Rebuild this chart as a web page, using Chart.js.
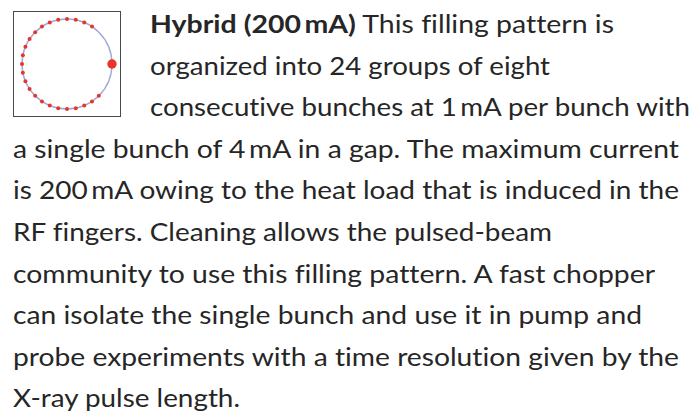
<!DOCTYPE html>
<html>
<head>
<meta charset="utf-8">
<script src="https://cdn.jsdelivr.net/npm/chart.js@4"></script>
<style>
    html, body {
        margin: 0;
        padding: 0;
        background: #ffffff;
    }
    body {
        width: 693px;
        height: 419px;
        position: relative;
        overflow: hidden;
        font-family: Lato, "DejaVu Sans Condensed", sans-serif;
        color: #262626;
    }
    #ring-box {
        position: absolute;
        left: 13px;
        top: 11px;
        width: 106px;
        height: 104px;
        border: 1px solid #4a4a4a;
    }
    #ring-box canvas {
        display: block;
    }
    .line {
        position: absolute;
        white-space: nowrap;
        font-size: 25px;
        line-height: 30px;
        font-variant-ligatures: none;
        transform-origin: 0 0;
    }
    .line b {
        font-weight: bold;
    }
</style>
</head>
<body>
<div id="ring-box"><canvas id="ring-chart" width="106" height="104"></canvas></div>
<div id="text"></div>

<script>
// Filling pattern: current (mA) in each of 32 slots around the ring,
// slot 0 is the single bunch sitting in the gap
const slotCurrent = [
    4, 0, 0, 0,
    1, 1, 1, 1, 1, 1, 1, 1,
    1, 1, 1, 1, 1, 1, 1, 1,
    1, 1, 1, 1, 1, 1, 1, 1,
    0, 0, 0, 0
];
const slotLabels = slotCurrent.map((c, i) => 'slot ' + i);

// Text lines as they wrap in the reference
const textLines = [
    '<b>Hybrid (200\u2009mA)</b> This filling pattern is',
    'organized into 24 groups of eight',
    'consecutive bunches at 1\u2009mA per bunch with',
    'a single bunch of 4\u2009mA in a gap. The maximum current',
    'is 200\u2009mA owing to the heat load that is induced in the',
    'RF fingers. Cleaning allows the pulsed-beam',
    'community to use this filling pattern. A fast chopper',
    'can isolate the single bunch and use it in pump and',
    'probe experiments with a time resolution given by the',
    'X-ray pulse length.'
];
// where each line starts and ends in the reference
const lineStart = [150, 150, 150, 13, 13, 13, 13, 13, 13, 13];
const lineEnd = [614, 550, 690, 679, 679, 552, 655, 642, 679, 240];

const textBox = document.getElementById('text');
textLines.forEach((line, i) => {
    const div = document.createElement('div');
    div.className = 'line';
    div.innerHTML = line;
    div.style.left = lineStart[i] + 'px';
    div.style.top = (33 + 41.6 * i - 25) + 'px';
    textBox.appendChild(div);
    const w = div.getBoundingClientRect().width;
    div.style.transform = 'scaleX(' + ((lineEnd[i] - lineStart[i]) / w) + ')';
});

// Ring with bunches
new Chart(document.getElementById('ring-chart'), {
    type: 'radar',
    data: {
        labels: slotLabels,
        datasets: [
            {
                label: 'Bunch trains',
                data: slotCurrent.map(c => (c === 1 ? 1 : null)),
                showLine: false,
                borderWidth: 0,
                borderColor: 'transparent',
                backgroundColor: 'transparent',
                pointRadius: 2,
                pointBorderWidth: 0,
                pointBackgroundColor: '#e8342b',
            },
            {
                label: 'Single bunch',
                data: slotCurrent.map(c => (c > 1 ? 1 : null)),
                showLine: false,
                borderWidth: 0,
                borderColor: 'transparent',
                backgroundColor: 'transparent',
                pointRadius: 4.7,
                pointBorderWidth: 0,
                pointBackgroundColor: '#e8342b',
            },
        ],
    },
    options: {
        responsive: false,
        animation: false,
        layout: { padding: 7 },
        plugins: {
            legend: { display: false },
            tooltip: { enabled: false },
        },
        scales: {
            r: {
                min: 0,
                max: 1,
                startAngle: 90,
                ticks: { display: false, stepSize: 1 },
                pointLabels: { display: false },
                angleLines: { display: false },
                grid: {
                    circular: true,
                    color: '#9eaad8',
                    lineWidth: 1.4,
                },
            },
        },
    },
});
</script>
</body>
</html>
